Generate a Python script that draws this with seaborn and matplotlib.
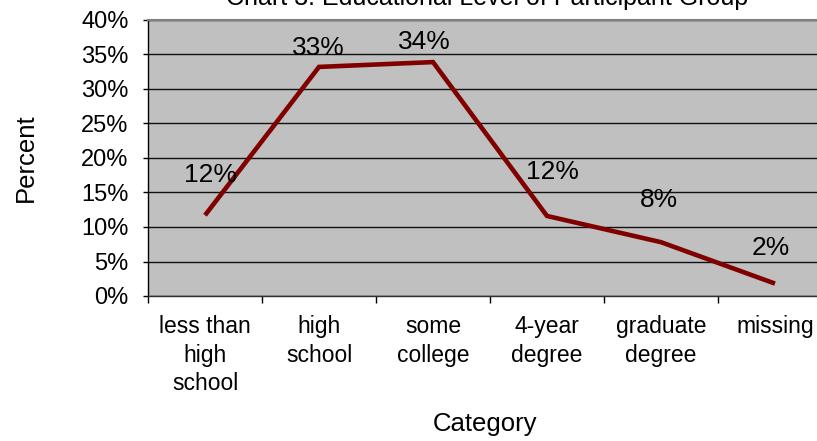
import matplotlib
matplotlib.use("Agg")
import matplotlib.pyplot as plt
from matplotlib.ticker import FixedLocator, FuncFormatter
import pandas as pd
import seaborn as sns

# Education level of the participant group (percent of participants)
categories = ["less than high school", "high school", "some college",
              "4-year degree", "graduate degree", "missing"]
tick_labels = ["less than\nhigh\nschool", "high\nschool", "some\ncollege",
               "4-year\ndegree", "graduate\ndegree", "missing"]
percent = [11.7, 33.2, 33.9, 11.6, 7.8, 1.8]
y_ticks = [0, 5, 10, 15, 20, 25, 30, 35, 40]

title = "Chart 3: Educational Level of Participant Group"
x_title = "Category"
y_title = "Percent"

# per-label nudges (pixels) for the value annotations
label_offsets = [(5, 33), (-1, 12), (-9, 13), (5, 37), (-2, 35), (-4, 29)]

sns.set_style("white")
plt.rcParams["font.family"] = ["Liberation Sans", "DejaVu Sans"]
plt.rcParams["text.color"] = "black"
plt.rcParams["axes.labelcolor"] = "black"
plt.rcParams["xtick.color"] = "black"
plt.rcParams["ytick.color"] = "black"

df = pd.DataFrame({"category": categories, "percent": percent})

W, H = 817, 441
fig = plt.figure(figsize=(W / 100, H / 100), dpi=100)
fig.patch.set_facecolor("white")
ax = fig.add_axes([148 / W, 145 / H, 684 / W, 276 / H])
ax.set_facecolor("#C0C0C0")

sns.lineplot(data=df, x="category", y="percent", sort=False,
             color="#800000", linewidth=3.3, ax=ax,
             solid_joinstyle="miter", solid_capstyle="butt")

ax.set_xlim(-0.5, len(categories) - 0.5)
ax.set_ylim(0, 40)

# y axis
ax.yaxis.set_major_locator(FixedLocator(y_ticks))
ax.yaxis.set_major_formatter(FuncFormatter(lambda v, p: f"{v:.0f}%"))
ax.tick_params(axis="y", which="major", direction="out", length=3.6,
               width=1, color="black", labelcolor="black", pad=10.5,
               labelsize=17, left=True)

# x axis: labels centred on categories, tick marks on the boundaries
ax.set_xticks(range(len(categories)))
ax.set_xticklabels(tick_labels, linespacing=1.3)
ax.xaxis.set_minor_locator(FixedLocator([i - 0.5 for i in range(len(categories) + 1)]))
ax.tick_params(axis="x", which="major", length=0, pad=14, labelsize=16.5,
               labelcolor="black")
ax.tick_params(axis="x", which="minor", direction="out", length=5,
               width=1, color="black", bottom=True)

ax.yaxis.grid(True, color="#111111", linewidth=1.0)
ax.xaxis.grid(False)
ax.set_axisbelow(True)

ax.spines["right"].set_visible(False)
ax.spines["top"].set_color("#808080")
ax.spines["top"].set_linewidth(1.5)
ax.spines["left"].set_color("black")
ax.spines["left"].set_linewidth(1.0)
ax.spines["bottom"].set_color("#303030")
ax.spines["bottom"].set_linewidth(1.0)

# value labels
for i, (v, (dx, dy)) in enumerate(zip(percent, label_offsets)):
    ax.annotate(f"{v:.0f}%", xy=(i, v), xytext=(dx, dy),
                textcoords="offset pixels", ha="center", va="baseline",
                fontsize=19, color="black", annotation_clip=False)

ax.set_xlabel(x_title, fontsize=18.5, color="black")
ax.set_ylabel(y_title, fontsize=18.5, color="black")
ax.xaxis.set_label_coords(0.4927, -0.422)
ax.yaxis.set_label_coords(-0.161, 0.5)

fig.text(487 / W, 1 - 5 / H, title, ha="center", va="baseline",
         fontsize=18, color="black")

fig.savefig("out.png", dpi=100, facecolor="white")
